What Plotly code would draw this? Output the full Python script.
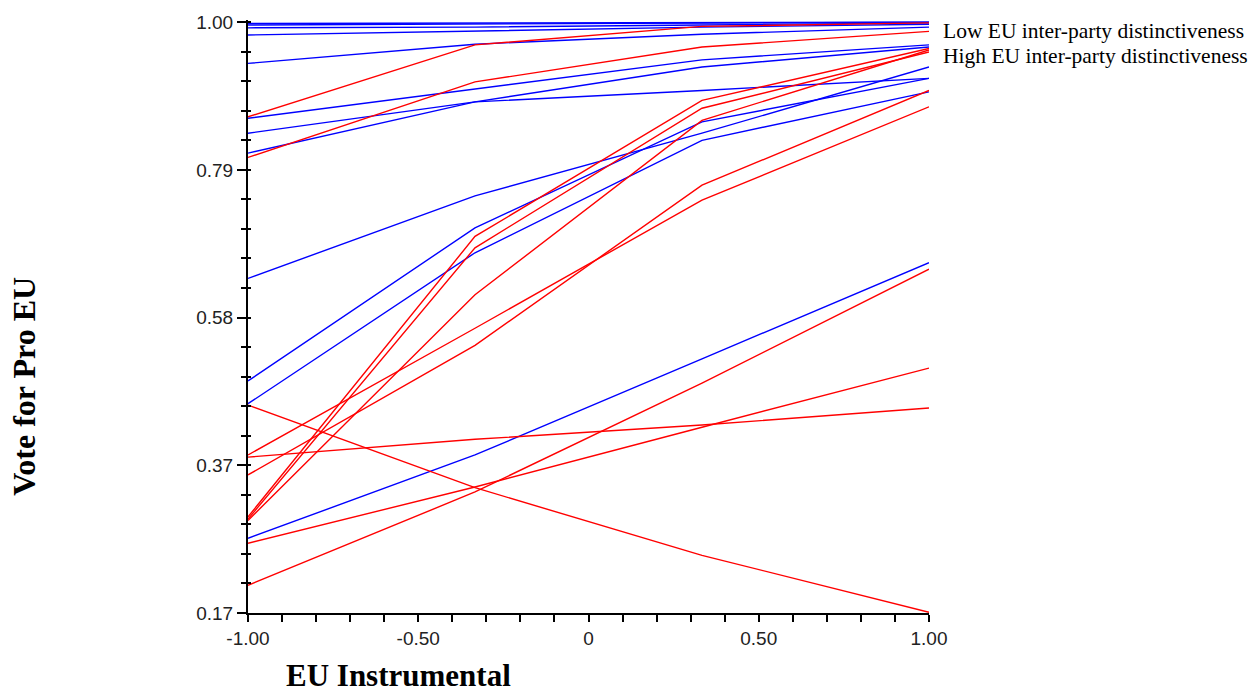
import plotly.graph_objects as go

# Predicted probability of a pro-EU vote across EU instrumental attitudes
eu_instrumental = [-1.0, -1 / 3, 1 / 3, 1.0]

# Low EU inter-party distinctiveness (blue)
low_distinct = [
    [0.998, 0.999, 0.999, 1.000],
    [0.996, 0.997, 0.999, 1.000],
    [0.992, 0.993, 0.996, 0.999],
    [0.982, 0.988, 0.993, 0.997],
    [0.942, 0.969, 0.983, 0.993],
    [0.865, 0.906, 0.947, 0.968],
    [0.844, 0.888, 0.937, 0.965],
    [0.816, 0.888, 0.904, 0.921],
    [0.640, 0.756, 0.844, 0.937],
    [0.496, 0.711, 0.860, 0.921],
    [0.464, 0.676, 0.834, 0.902],
    [0.275, 0.392, 0.527, 0.662],
]

# High EU inter-party distinctiveness (red)
high_distinct = [
    [0.867, 0.968, 0.994, 0.999],
    [0.810, 0.916, 0.965, 0.987],
    [0.305, 0.699, 0.890, 0.963],
    [0.302, 0.683, 0.879, 0.958],
    [0.300, 0.617, 0.862, 0.961],
    [0.392, 0.570, 0.750, 0.881],
    [0.364, 0.546, 0.771, 0.904],
    [0.462, 0.346, 0.251, 0.171],
    [0.389, 0.414, 0.434, 0.458],
    [0.268, 0.347, 0.431, 0.514],
    [0.209, 0.340, 0.493, 0.653],
]

x_tickvals = [-1.0, -0.5, 0.0, 0.5, 1.0]
x_ticktext = ["-1.00", "-0.50", "0", "0.50", "1.00"]
y_tickvals = [0.17, 0.3775, 0.585, 0.7925, 1.0]
y_ticktext = ["0.17", "0.37", "0.58", "0.79", "1.00"]

legend_labels = ["Low EU inter-party distinctiveness",
                 "High EU inter-party distinctiveness"]

fig = go.Figure()

for series in low_distinct:
    fig.add_trace(go.Scatter(x=eu_instrumental, y=series, mode="lines",
                             line=dict(color="#0000FF", width=1.4),
                             name=legend_labels[0], showlegend=False,
                             hoverinfo="skip"))
for series in high_distinct:
    fig.add_trace(go.Scatter(x=eu_instrumental, y=series, mode="lines",
                             line=dict(color="#FF0000", width=1.4),
                             name=legend_labels[1], showlegend=False,
                             hoverinfo="skip"))

# empty trace so the overlaid tick axis is rendered
fig.add_trace(go.Scatter(x=[None], y=[None], yaxis="y2", showlegend=False,
                         hoverinfo="skip"))

tick_font = dict(family="Liberation Sans, Arial, sans-serif", size=19, color="#222222")
y_range = [0.17, 1.003]
y_minor = 0.0415

fig.update_layout(
    width=1257, height=695,
    margin=dict(l=248, r=328, t=20, b=82),
    paper_bgcolor="white", plot_bgcolor="white",
    showlegend=False,
    xaxis=dict(
        range=[-1, 1], tickvals=x_tickvals, ticktext=x_ticktext,
        ticks="outside", ticklen=7, tickwidth=1.5, tickcolor="black",
        showline=True, linecolor="black", linewidth=2,
        showgrid=False, zeroline=False, tickfont=tick_font,
        minor=dict(dtick=0.1, tick0=-1, ticks="outside", ticklen=7,
                   tickwidth=1.5, tickcolor="black", showgrid=False),
    ),
    yaxis=dict(
        range=y_range, tickvals=y_tickvals, ticktext=y_ticktext,
        ticks="outside", ticklen=9, tickwidth=1.5, tickcolor="black",
        showline=True, linecolor="black", linewidth=2,
        showgrid=False, zeroline=False, tickfont=tick_font,
        minor=dict(dtick=y_minor, tick0=0.17, ticks="outside", ticklen=5,
                   tickwidth=1.5, tickcolor="black", showgrid=False),
    ),
    yaxis2=dict(
        overlaying="y", anchor="x", side="left", range=y_range,
        tickvals=y_tickvals, ticks="inside", ticklen=3, tickwidth=1.5,
        tickcolor="black", showticklabels=False, showline=False,
        showgrid=False, zeroline=False,
        minor=dict(dtick=y_minor, tick0=0.17, ticks="inside", ticklen=3,
                   tickwidth=1.5, tickcolor="black", showgrid=False),
    ),
)

serif = "Liberation Serif, Times New Roman, serif"

fig.add_annotation(text="<b>EU Instrumental</b>", xref="paper", yref="paper",
                   x=0.2217, y=0, yshift=-62, xanchor="center", yanchor="middle",
                   borderpad=0, showarrow=False,
                   font=dict(family=serif, size=31, color="black"))
fig.add_annotation(text="<b>Vote for Pro EU</b>", xref="paper", yref="paper",
                   x=-0.3290, y=0.383, xanchor="center", yanchor="middle",
                   textangle=-90, showarrow=False,
                   font=dict(family=serif, size=32, color="black"))

for label, ypos in zip(legend_labels, [0.981, 0.939]):
    fig.add_annotation(text=label, xref="paper", yref="paper",
                       x=1.017, y=ypos, xanchor="left", yanchor="middle",
                       showarrow=False,
                       font=dict(family=serif, size=21.5, color="black"))

fig.write_html("out.html")
